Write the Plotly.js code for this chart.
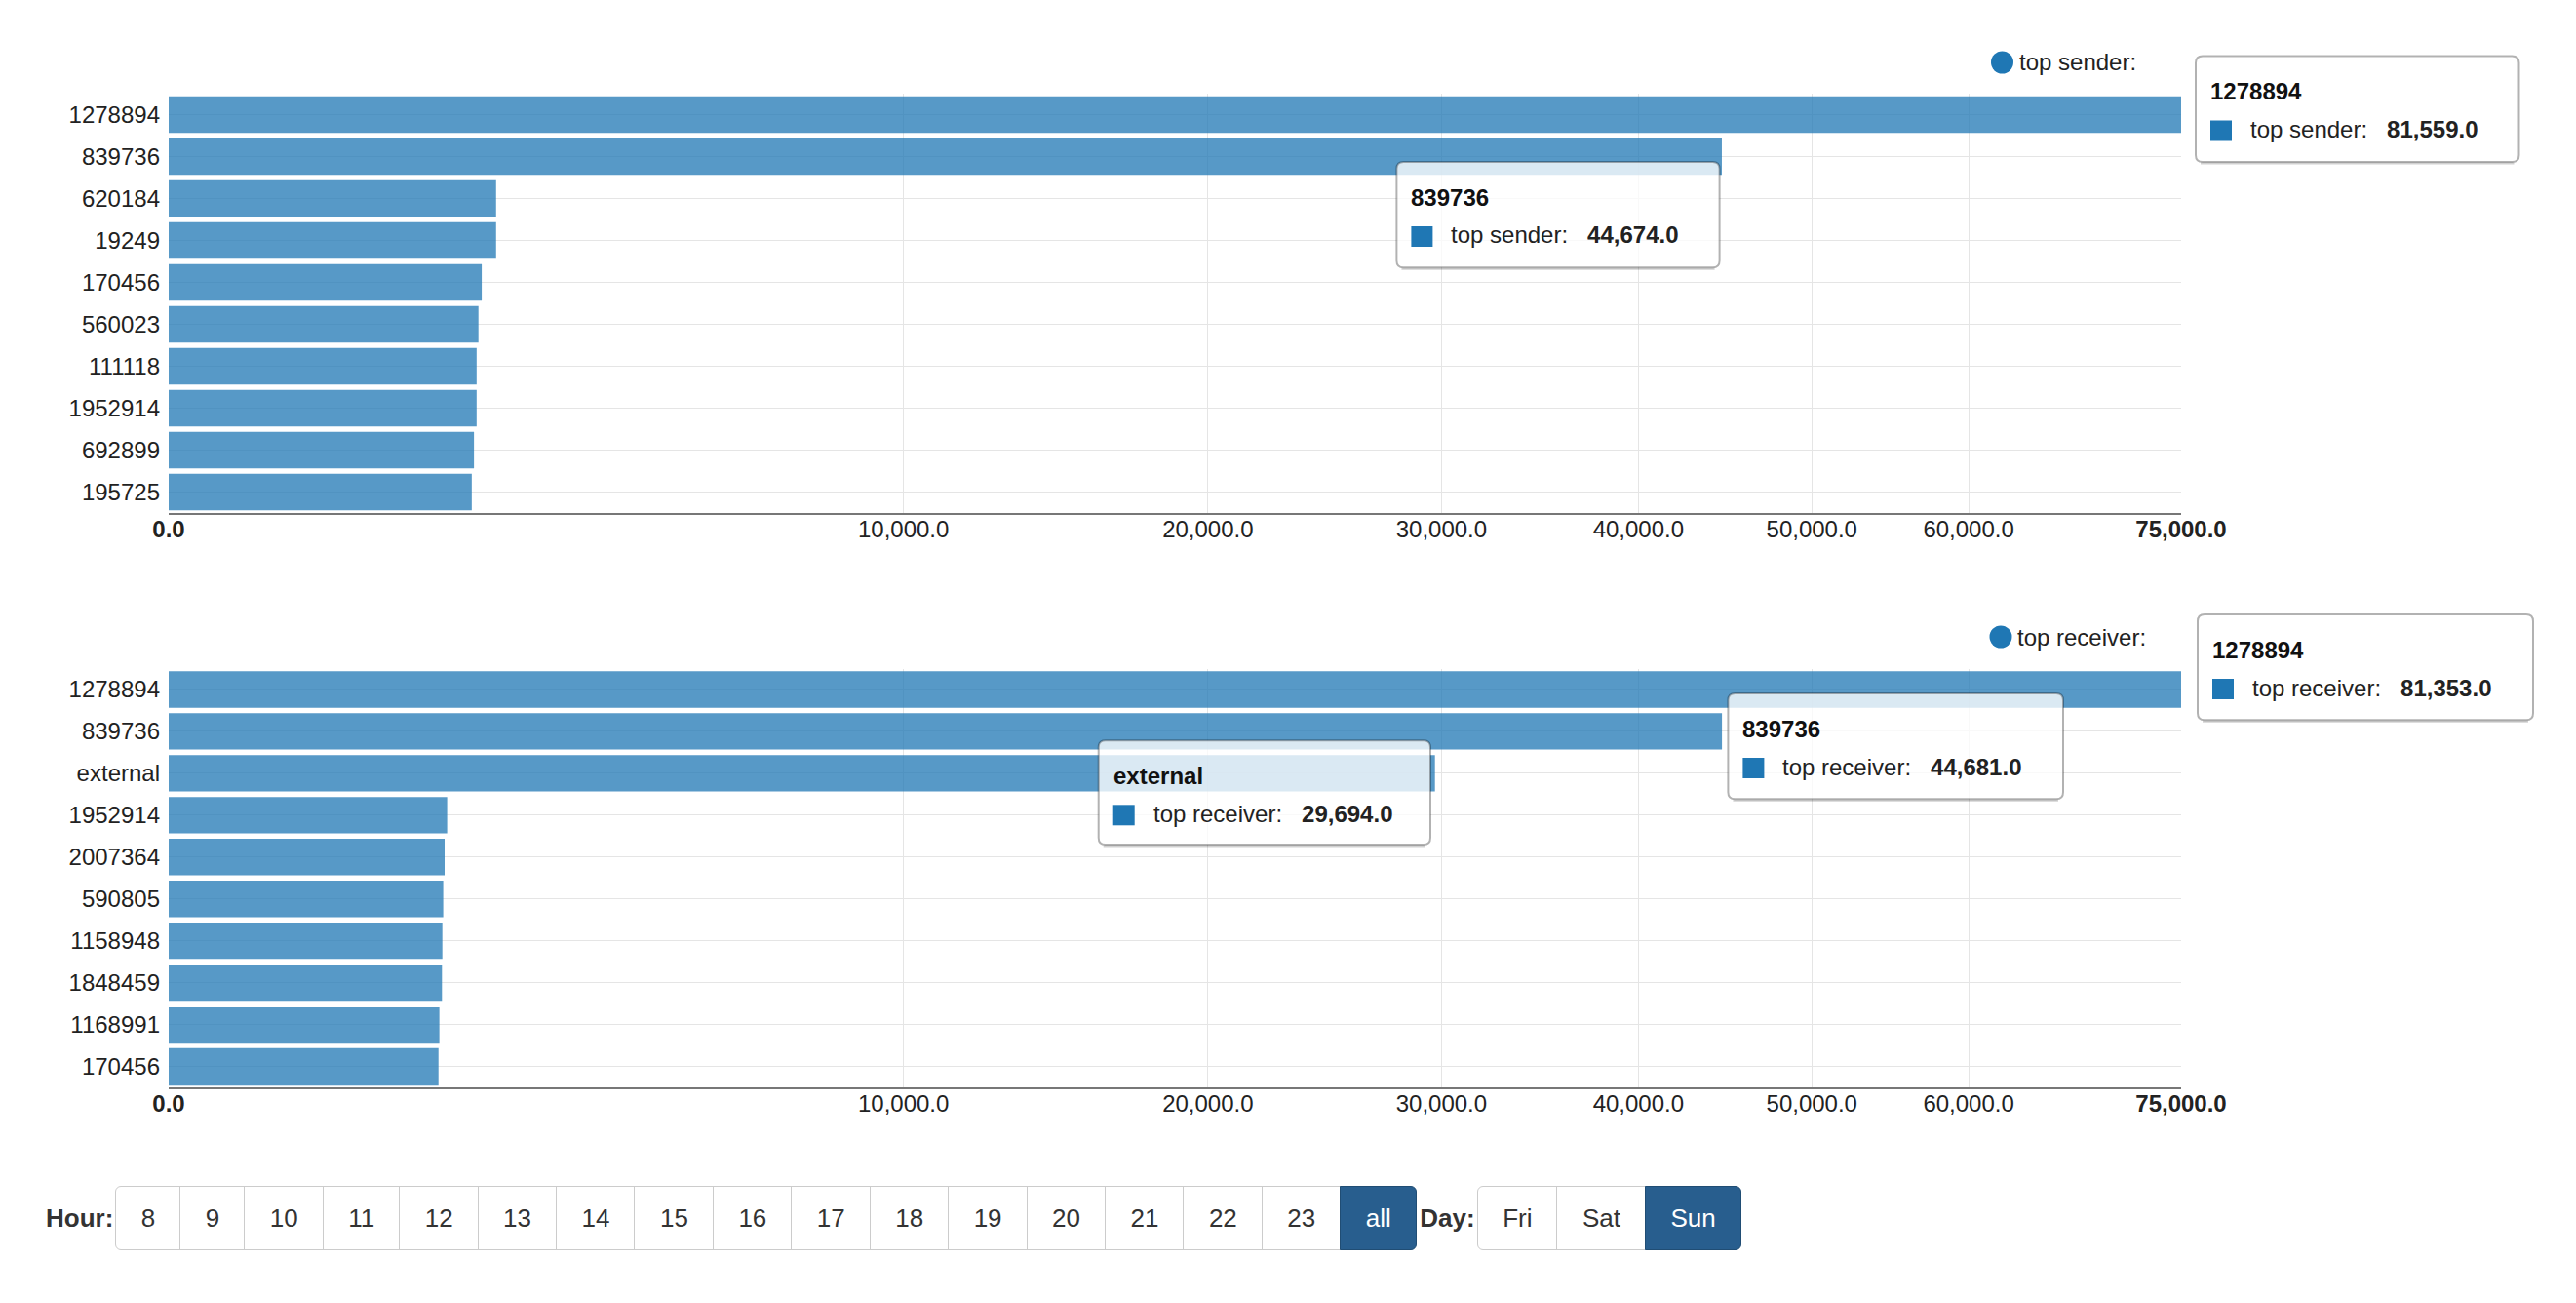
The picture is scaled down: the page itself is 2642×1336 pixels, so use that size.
<!DOCTYPE html>
<html>
<head>
<meta charset="utf-8">
<script src="https://cdn.plot.ly/plotly-3.0.1.min.js"></script>
<style>
html,body{margin:0;padding:0;background:#fff;width:2642px;height:1336px;overflow:hidden;font-family:Arial,"Liberation Sans",sans-serif;}
#chart{position:absolute;left:0;top:0;width:2642px;height:1336px;}
#controls{position:absolute;left:47px;top:1216px;display:flex;align-items:center;height:66px;}
.lbl{font-weight:bold;font-size:26px;color:#333;margin-right:2px;}
.grp{display:flex;height:66px;margin-right:3px;}
.grp button{font-family:Arial,"Liberation Sans",sans-serif;font-size:26px;color:#333;background:#fff;border:1.5px solid #ccc;margin:0 0 0 -1.5px;padding:0 25.5px;height:66px;cursor:pointer;}
.grp button:first-child{border-radius:6px 0 0 6px;margin-left:0;}
.grp button:last-child{border-radius:0 6px 6px 0;}
.grp button.active{background:#285e8e;border-color:#204d74;color:#fff;}
</style>
</head>
<body>
<div id="chart"></div>
<div id="controls"></div>
<script>
// ---------------- data ----------------
const senderName = 'top sender';
const senderIds = ['1278894','839736','620184','19249','170456','560023','111118','1952914','692899','195725'];
const senderCounts = [81559, 44674, 1985, 1985, 1815, 1777, 1756, 1756, 1726, 1701];

const receiverName = 'top receiver';
const receiverIds = ['1278894','839736','external','1952914','2007364','590805','1158948','1848459','1168991','170456'];
const receiverCounts = [81353, 44681, 29694, 1436, 1410, 1396, 1387, 1383, 1357, 1348];

const tickValues = [0, 10000, 20000, 30000, 40000, 50000, 60000, 75000];
const tickLabels = ['0.0','10,000.0','20,000.0','30,000.0','40,000.0','50,000.0','60,000.0','75,000.0'];

const hourButtons = ['8','9','10','11','12','13','14','15','16','17','18','19','20','21','22','23','all'];
const dayButtons = ['Fri','Sat','Sun'];
const activeHour = 'all';
const activeDay = 'Sun';

// ---------------- layout constants ----------------
const W = 2642, H = 1336;
const ML = 173, MR = 405, MT = 96, MB = 221;
const PW = W - ML - MR, PH = H - MT - MB;
const upperBottomPx = 526, lowerTopPx = 685.5;
const FONT = 'Arial, "Liberation Sans", sans-serif';
const xMax = 75000;
const sq = v => Math.sqrt(Math.min(v, xMax));   // square-root scale, clamped at axis max

const px = x => (x - ML) / PW;
const py = y => (H - MB - y) / PH;

const fmt = v => v.toLocaleString('en-US', {minimumFractionDigits: 1, maximumFractionDigits: 1});

// ---------------- traces ----------------
const barColor = 'rgba(31,119,180,0.75)';
const traces = [
  {type:'bar', orientation:'h', y: senderIds, x: senderCounts.map(sq), xaxis:'x', yaxis:'y',
   marker:{color: barColor}, hoverinfo:'none', name: senderName},
  {type:'bar', orientation:'h', y: receiverIds, x: receiverCounts.map(sq), xaxis:'x2', yaxis:'y2',
   marker:{color: barColor}, hoverinfo:'none', name: receiverName}
];

const lastTick = tickLabels.length - 1;
const xCommon = {
  range: [0, Math.sqrt(xMax)], tickmode: 'array',
  tickvals: tickValues.map(Math.sqrt),
  ticktext: tickLabels.map((t, i) => (i === 0 || i === lastTick) ? '<b>' + t + '</b>' : t),
  showgrid: true, gridcolor: '#e5e5e5', gridwidth: 1, zeroline: false,
  showline: true, linecolor: '#777', linewidth: 2, ticks: '',
  tickfont: {size: 24, color: '#222', family: FONT}, fixedrange: true, ticklabelstandoff: -6
};
const yCommon = {
  type: 'category', autorange: 'reversed', showgrid: true, gridcolor: '#e5e5e5', gridwidth: 1,
  zeroline: false, showline: false, ticks: '', ticklabelstandoff: 8,
  tickfont: {size: 24, color: '#222', family: FONT}, fixedrange: true
};

// ---------------- tooltips & legends (decoration) ----------------
const shapes = [];
const annotations = [];

function rrect(L, T, R, B, r) {
  const X = px, Y = py;
  return `M${X(L+r)},${Y(T)} L${X(R-r)},${Y(T)} Q${X(R)},${Y(T)} ${X(R)},${Y(T+r)} ` +
         `L${X(R)},${Y(B-r)} Q${X(R)},${Y(B)} ${X(R-r)},${Y(B)} L${X(L+r)},${Y(B)} ` +
         `Q${X(L)},${Y(B)} ${X(L)},${Y(B-r)} L${X(L)},${Y(T+r)} Q${X(L)},${Y(T)} ${X(L+r)},${Y(T)} Z`;
}

function legend(cx, cy, label) {
  shapes.push({type:'circle', xref:'paper', yref:'paper', layer:'above',
    x0: px(cx-11.5), x1: px(cx+11.5), y0: py(cy+11.5), y1: py(cy-11.5),
    fillcolor:'#1f77b4', line:{width:0}});
  annotations.push({xref:'paper', yref:'paper', x: px(cx+15), y: py(cy), xanchor:'left', yanchor:'middle',
    showarrow:false, text: label, font:{size:24, color:'#222', family: FONT}});
}

function tooltip(ids, counts, name, idx, L, T, R, B) {
  shapes.push({type:'path', xref:'paper', yref:'paper', layer:'above',
    path: rrect(L, T, R, B, 7), fillcolor:'rgba(255,255,255,0.78)', line:{color:'rgba(0,0,0,0.3)', width:2}});
  shapes.push({type:'line', xref:'paper', yref:'paper', layer:'above',
    x0: px(L+5), x1: px(R-5), y0: py(B+1.5), y1: py(B+1.5), line:{color:'rgba(0,0,0,0.18)', width:2}});
  shapes.push({type:'rect', xref:'paper', yref:'paper', layer:'above',
    x0: px(L+15), x1: px(L+37), y0: py(T+87), y1: py(T+66), fillcolor:'#1f77b4', line:{width:0}});
  annotations.push({xref:'paper', yref:'paper', x: px(L+13), y: py(T+36), xanchor:'left', yanchor:'middle',
    showarrow:false, text: '<b>' + ids[idx] + '</b>', font:{size:24, color:'#111', family: FONT}});
  annotations.push({xref:'paper', yref:'paper', x: px(L+54), y: py(T+75), xanchor:'left', yanchor:'middle',
    showarrow:false, text: name + ':\u00a0\u00a0\u00a0<b>' + fmt(counts[idx]) + '</b>',
    font:{size:24, color:'#222', family: FONT}});
}

legend(2053.5, 64, senderName + ':');
legend(2052, 653, receiverName + ':');

tooltip(senderIds, senderCounts, senderName, 0, 2252, 57.5, 2583.5, 166);
tooltip(senderIds, senderCounts, senderName, 1, 1432.4, 166, 1763.6, 274.3);
tooltip(receiverIds, receiverCounts, receiverName, 0, 2254, 630, 2598, 738.3);
tooltip(receiverIds, receiverCounts, receiverName, 1, 1772.4, 711, 2116, 819.3);
tooltip(receiverIds, receiverCounts, receiverName, 2, 1126.7, 759.3, 1467, 866);

const layout = {
  width: W, height: H,
  margin: {l: ML, r: MR, t: MT, b: MB, pad: 0},
  paper_bgcolor: '#fff', plot_bgcolor: '#fff',
  showlegend: false, bargap: 0.13,
  font: {family: FONT, size: 24, color: '#222'},
  xaxis: Object.assign({}, xCommon, {anchor: 'y'}),
  xaxis2: Object.assign({}, xCommon, {anchor: 'y2'}),
  yaxis: Object.assign({}, yCommon, {domain: [py(upperBottomPx), 1], anchor: 'x'}),
  yaxis2: Object.assign({}, yCommon, {domain: [0, py(lowerTopPx)], anchor: 'x2'}),
  shapes: shapes, annotations: annotations
};

Plotly.newPlot('chart', traces, layout, {displayModeBar: false, responsive: false});

// ---------------- controls ----------------
const ctr = document.getElementById('controls');
function group(label, items, active) {
  const l = document.createElement('span'); l.className = 'lbl'; l.textContent = label; ctr.appendChild(l);
  const g = document.createElement('div'); g.className = 'grp';
  items.forEach(t => {
    const b = document.createElement('button'); b.textContent = t;
    if (t === active) b.className = 'active';
    g.appendChild(b);
  });
  ctr.appendChild(g);
}
group('Hour:', hourButtons, activeHour);
group('Day:', dayButtons, activeDay);
</script>
</body>
</html>
